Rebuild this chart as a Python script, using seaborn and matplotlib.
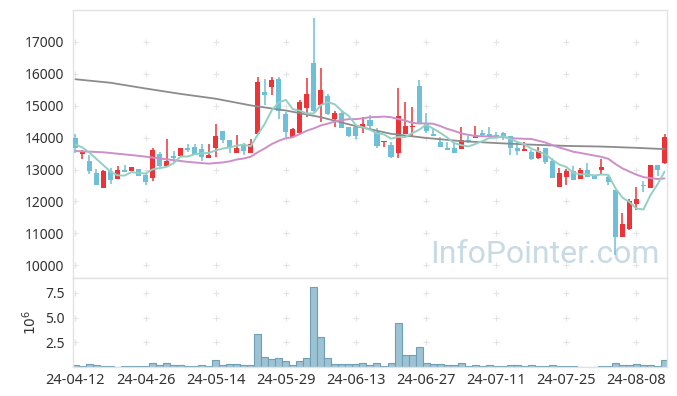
import matplotlib
matplotlib.use('Agg')
import matplotlib.pyplot as plt
import numpy as np
import pandas as pd
import seaborn as sns

# daily candles, 24-04-12 .. 24-08-14 (trading days)
opens = [14000, 13500, 13270, 12890, 12430, 12960, 12710, 12980, 12960, 13010,
         12830, 12740, 13480, 13120, 13430, 13430, 13660, 13710, 13640, 13370,
         13660, 14210, 13920, 13530, 13790, 13530, 14100, 15440, 15600, 15840,
         14750, 14010, 14130, 14920, 16340, 15010, 15290, 14570, 14760, 14340,
         14340, 14290, 14560, 14190, 13860, 13770, 13530, 14110, 14330, 15620,
         14420, 14120, 13870, 13670, 13660, 13650, 13920, 14000, 14130, 14100,
         14080, 14130, 14050, 13680, 13590, 13560, 13370, 13670, 13260, 12460,
         12770, 12950, 12710, 12980, 12790, 12990, 12770, 12350, 10890, 11140,
         11910, 12500, 12410, 13140, 13210]
highs = [14100, 13610, 13470, 13030, 12980, 13060, 13110, 13140, 13090, 13030,
         12880, 13660, 13560, 13950, 13580, 13690, 13800, 13800, 13790, 13800,
         14430, 14210, 13920, 14080, 13820, 13950, 15890, 15850, 15910, 15890,
         14810, 14290, 15180, 15860, 17740, 16170, 15360, 14840, 14870, 14340,
         14390, 14660, 14700, 14290, 13890, 13870, 15550, 15110, 14950, 15810,
         14760, 14290, 14010, 13870, 13870, 14330, 14050, 14360, 14240, 14340,
         14190, 14170, 14050, 13870, 13870, 13610, 13710, 13670, 13370, 13060,
         13030, 13120, 13060, 13190, 12820, 13320, 12790, 12350, 11650, 12090,
         12460, 12650, 13140, 13140, 14110]
lows = [13510, 13320, 12860, 12510, 12430, 12540, 12690, 12920, 12940, 12800,
        12500, 12650, 13090, 13120, 13240, 13400, 13540, 13450, 13260, 13350,
        13400, 13820, 13510, 13510, 13450, 13530, 14100, 15010, 15340, 14570,
        14030, 14010, 14100, 14660, 14810, 14500, 14710, 14340, 14310, 14030,
        13950, 14130, 14240, 13680, 13710, 13350, 13350, 14110, 14030, 14420,
        14160, 14060, 13710, 13620, 13510, 13650, 13820, 14000, 14030, 14010,
        13980, 13920, 13460, 13450, 13590, 13300, 13330, 13160, 12720, 12460,
        12530, 12670, 12710, 12770, 12700, 12830, 12530, 10310, 10890, 11100,
        11730, 12300, 12410, 12790, 13160]
closes = [13660, 13560, 12960, 12530, 12950, 12670, 12980, 12920, 13070, 12800,
          12620, 13610, 13120, 13270, 13370, 13670, 13610, 13480, 13400, 13440,
          14050, 13920, 13660, 13680, 13590, 13800, 15740, 15350, 15810, 14830,
          14190, 14270, 15120, 15370, 14840, 15490, 14750, 14760, 14310, 14060,
          14060, 14420, 14380, 13750, 13890, 13400, 14680, 14360, 14360, 14420,
          14220, 14060, 13710, 13620, 13530, 13910, 13850, 14080, 14070, 14010,
          14010, 14030, 13690, 13590, 13640, 13330, 13580, 13240, 12740, 12890,
          12950, 12670, 12980, 12770, 12710, 13090, 12610, 10890, 11290, 12020,
          12070, 12470, 13140, 12980, 14010]
# volume in millions
volumes = [0.23, 0.10, 0.33, 0.23, 0.13, 0.13, 0.03, 0.10, 0.10, 0.10,
           0.10, 0.40, 0.23, 0.40, 0.23, 0.23, 0.10, 0.10, 0.20, 0.10,
           0.70, 0.20, 0.30, 0.30, 0.20, 0.20, 3.30, 1.00, 0.80, 0.90,
           0.60, 0.20, 0.60, 0.90, 8.10, 3.00, 0.90, 0.30, 0.30, 0.30,
           0.30, 0.40, 0.20, 0.40, 0.07, 0.40, 4.40, 1.20, 1.20, 2.00,
           0.40, 0.30, 0.30, 0.20, 0.20, 0.40, 0.07, 0.20, 0.07, 0.20,
           0.10, 0.10, 0.20, 0.20, 0.10, 0.20, 0.10, 0.10, 0.20, 0.10,
           0.10, 0.10, 0.03, 0.03, 0.03, 0.10, 0.10, 0.40, 0.20, 0.20,
           0.30, 0.20, 0.20, 0.10, 0.73]

# moving averages before enough history is on the chart
ma5_head_idx = [0, 1, 2, 3]
ma5_head = [13780, 13690, 13530, 13330]
ma20_head_idx = [0, 4, 9, 13, 16]
ma20_head = [13580, 13540, 13430, 13320, 13240]
ma120_idx = [0, 5, 10, 15, 20, 25, 30, 35, 40, 45, 50, 55, 60, 65, 70, 75, 80, 84]
ma120 = [15830, 15720, 15540, 15370, 15220, 15010, 14850, 14640, 14360, 14120,
         13990, 13890, 13830, 13780, 13740, 13720, 13680, 13640]

tick_pos = [0, 10, 20, 30, 40, 50, 60, 70, 80]
tick_labels = ['24-04-12', '24-04-26', '24-05-14', '24-05-29', '24-06-13',
               '24-06-27', '24-07-11', '24-07-25', '24-08-08']
price_ticks = [10000, 11000, 12000, 13000, 14000, 15000, 16000, 17000]
vol_ticks = [2.5, 5.0, 7.5]

sns.set_style('white')
plt.rcParams['font.family'] = ['Noto Sans', 'DejaVu Sans']

df = pd.DataFrame({'o': opens, 'h': highs, 'l': lows, 'c': closes, 'v': volumes})
df['idx'] = np.arange(len(df))
up = df['c'] >= df['o']
RED, BLUE = '#ec3338', '#6dc0d7'
colors = np.where(up, RED, BLUE)

ma5_full = df['c'].rolling(5).mean()
ma20_full = df['c'].rolling(20).mean()
ma5_df = pd.DataFrame({'x': ma5_head_idx + list(df['idx'][4:]),
                       'y': ma5_head + list(ma5_full[4:])})
ma20_df = pd.DataFrame({'x': ma20_head_idx + list(df['idx'][19:]),
                        'y': ma20_head + list(ma20_full[19:])})
ma120_df = pd.DataFrame({'x': ma120_idx, 'y': ma120})

fig = plt.figure(figsize=(6.77, 3.96), dpi=100)
ax = fig.add_axes([0.1078, 0.298, 0.8774, 0.6767])
axv = fig.add_axes([0.1078, 0.0732, 0.8774, 0.2248], sharex=ax)

# grid crosses
gx, gy = np.meshgrid(tick_pos, price_ticks)
ax.plot(gx.ravel(), gy.ravel(), '+', color='#e4e4e4', ms=5, mew=0.8, zorder=0)
gx, gy = np.meshgrid(tick_pos, vol_ticks)
axv.plot(gx.ravel(), gy.ravel(), '+', color='#e4e4e4', ms=5, mew=0.8, zorder=0)

ax.text(0.987, 0.035, 'InfoPointer.com', transform=ax.transAxes, ha='right',
        va='bottom', fontsize=23, color='#c8dae4',
        family=['Roboto', 'Noto Sans'], zorder=1)

# candles
body = (df['c'] - df['o']).abs().clip(lower=25)
ax.vlines(df['idx'], df['l'], df['h'], colors=colors, lw=1.1, zorder=2)
ax.bar(df['idx'], body, bottom=np.minimum(df['o'], df['c']), width=0.72,
       color=colors, linewidth=0, zorder=3)

sns.lineplot(data=ma120_df, x='x', y='y', ax=ax, color='#8c8c8c', lw=1.3,
             estimator=None, sort=True, zorder=4)
sns.lineplot(data=ma20_df, x='x', y='y', ax=ax, color='#cc8fc9', lw=1.4,
             estimator=None, sort=True, zorder=4)
sns.lineplot(data=ma5_df, x='x', y='y', ax=ax, color='#93d0c3', lw=1.4,
             estimator=None, sort=True, zorder=5)

# volume
axv.bar(df['idx'], df['v'], width=1.0, color='#9dc2d3', edgecolor='#6e9fb7',
        linewidth=0.8, zorder=2)

ax.set_xlim(-0.35, 84.35)
ax.set_ylim(9600, 18000)
axv.set_ylim(0, 9.0)

ax.set_yticks(price_ticks)
ax.set_yticklabels([str(t) for t in price_ticks])
axv.set_yticks(vol_ticks)
axv.set_yticklabels(['2.5', '5.0', '7.5'])
axv.set_xticks(tick_pos)
axv.set_xticklabels(tick_labels)
ax.tick_params(axis='x', labelbottom=False, length=0)
ax.tick_params(axis='y', length=0, labelsize=10, labelcolor='#333333', pad=6)
axv.tick_params(axis='both', length=0, labelsize=10, labelcolor='#333333')
axv.tick_params(axis='x', pad=4, labelsize=10.5)
axv.tick_params(axis='y', pad=6)

ax.set_xlabel('')
ax.set_ylabel('')
axv.set_xlabel('')
axv.set_ylabel('$10^6$', fontsize=10, color='#333333', labelpad=4)

for a in (ax, axv):
    for s in a.spines.values():
        s.set_color('#e2e2e2')
        s.set_linewidth(1.0)

fig.savefig('out.png', dpi=100)
